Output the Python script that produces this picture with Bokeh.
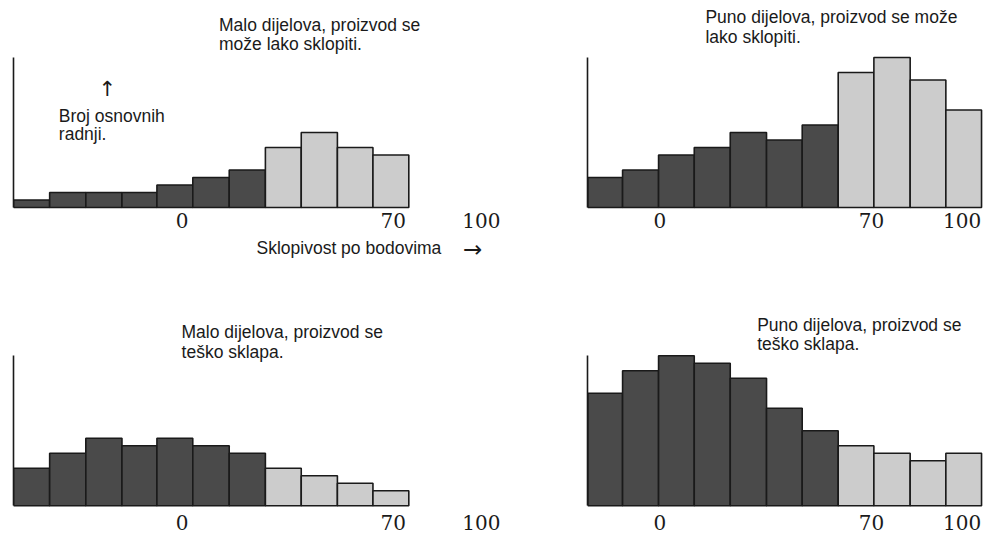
from bokeh.plotting import figure
from bokeh.models import Range1d, FixedTicker, Label
from bokeh.layouts import column, row
from bokeh.embed import file_html
from bokeh.resources import INLINE

# ---- data ----
left_edges = [-56, -44, -32, -20, -8.4, 3.5, 15.6, 27.6, 39.5, 51.5, 63.3, 75.2]
right_edges = [-23.8, -12.3, -0.4, 11.4, 23.3, 35.3, 47.1, 59.0, 70.8, 82.8, 94.6, 106.4]

few_easy = [1, 2, 2, 2, 3, 4, 5, 8, 10, 8, 7]
many_easy = [4, 5, 7, 8, 10, 9, 11, 18, 20, 17, 13]
few_hard = [5, 7, 9, 8, 9, 8, 7, 5, 4, 3, 2]
many_hard = [15, 18, 20, 19, 17, 13, 10, 8, 7, 6, 7]

tick_values = [0, 70, 100]

cap_few_easy = ["Malo dijelova, proizvod se", "može lako sklopiti."]
cap_many_easy = ["Puno dijelova, proizvod se može", "lako sklopiti."]
cap_few_hard = ["Malo dijelova, proizvod se", "teško sklapa."]
cap_many_hard = ["Puno dijelova, proizvod se", "teško sklapa."]
y_label = ["Broj osnovnih", "radnji."]
x_label = "Sklopivost po bodovima"

DARK = "#4a4a4a"
LIGHT = "#cccccc"
INK = "#1a1a1a"
SANS = "Liberation Sans"
SERIF = "DejaVu Serif"


def panel(edges, values, w, h, mleft, xr, yr, standoff):
    p = figure(width=w, height=h, output_backend="svg", toolbar_location=None,
               x_range=Range1d(*xr), y_range=Range1d(*yr),
               min_border_left=mleft, min_border_right=0, min_border_top=0,
               min_border_bottom=0)
    p.outline_line_color = None
    p.grid.visible = False
    colors = [DARK if i < 7 else LIGHT for i in range(len(values))]
    p.quad(left=edges[:-1], right=edges[1:], bottom=0, top=values,
           fill_color=colors, line_color=INK, line_width=1.6)
    xa = p.xaxis[0]
    xa.fixed_location = 0
    xa.ticker = FixedTicker(ticks=tick_values)
    xa.minor_tick_line_color = None
    xa.major_tick_line_color = None
    xa.major_tick_out = 0
    xa.major_tick_in = 0
    xa.axis_line_color = None
    xa.major_label_standoff = standoff
    xa.major_label_text_font = SERIF
    xa.major_label_text_font_size = "20px"
    xa.major_label_text_color = INK
    ya = p.yaxis[0]
    ya.ticker = FixedTicker(ticks=[])
    ya.minor_tick_line_color = None
    ya.major_tick_line_color = None
    ya.major_tick_out = 0
    ya.major_label_standoff = 0
    ya.bounds = (0, 20)
    ya.axis_line_color = INK
    ya.axis_line_width = 1.6
    return p


def txt(p, x, y, s, size="17.5px", align="left", font=SANS):
    p.add_layout(Label(x=x, y=y, text=s, text_font=font, text_font_size=size,
                       text_color=INK, text_align=align,
                       text_baseline="alphabetic"))


tl = panel(left_edges, few_easy, 500, 270, 13, (-56.0, 105.63), (-8.4, 27.6), 5)
tr = panel(right_edges, many_easy, 486, 270, 87, (-23.9, 108.04), (-8.4, 27.6), 5)
bl = panel(left_edges, few_hard, 500, 265, 13, (-56.0, 105.63), (-3.96, 31.37), 9)
br = panel(right_edges, many_hard, 486, 265, 87, (-23.9, 108.04), (-3.96, 31.37), 9)

txt(tl, 12.2, 24.3, cap_few_easy[0])
txt(tl, 12.2, 21.75, cap_few_easy[1])
txt(tl, -40.96, 12.2, y_label[0])
txt(tl, -40.96, 9.75, y_label[1])
txt(tl, -24.9, 15.75, "\u2191", size="21px", align="center", font="DejaVu Sans")
txt(tl, 24.65, -5.35, x_label)
txt(tl, 96.35, -5.5, "\u2192", size="23px", align="center", font="DejaVu Sans")

txt(tr, 15.1, 25.35, cap_many_easy[0])
txt(tr, 15.1, 22.7, cap_many_easy[1])

txt(bl, -0.23, 23.2, cap_few_hard[0])
txt(bl, -0.23, 20.55, cap_few_hard[1])

txt(br, 32.2, 24.1, cap_many_hard[0])
txt(br, 32.2, 21.6, cap_many_hard[1])

layout = column(row(tl, tr), row(bl, br))
open("out.html", "w").write(file_html(layout, INLINE))
